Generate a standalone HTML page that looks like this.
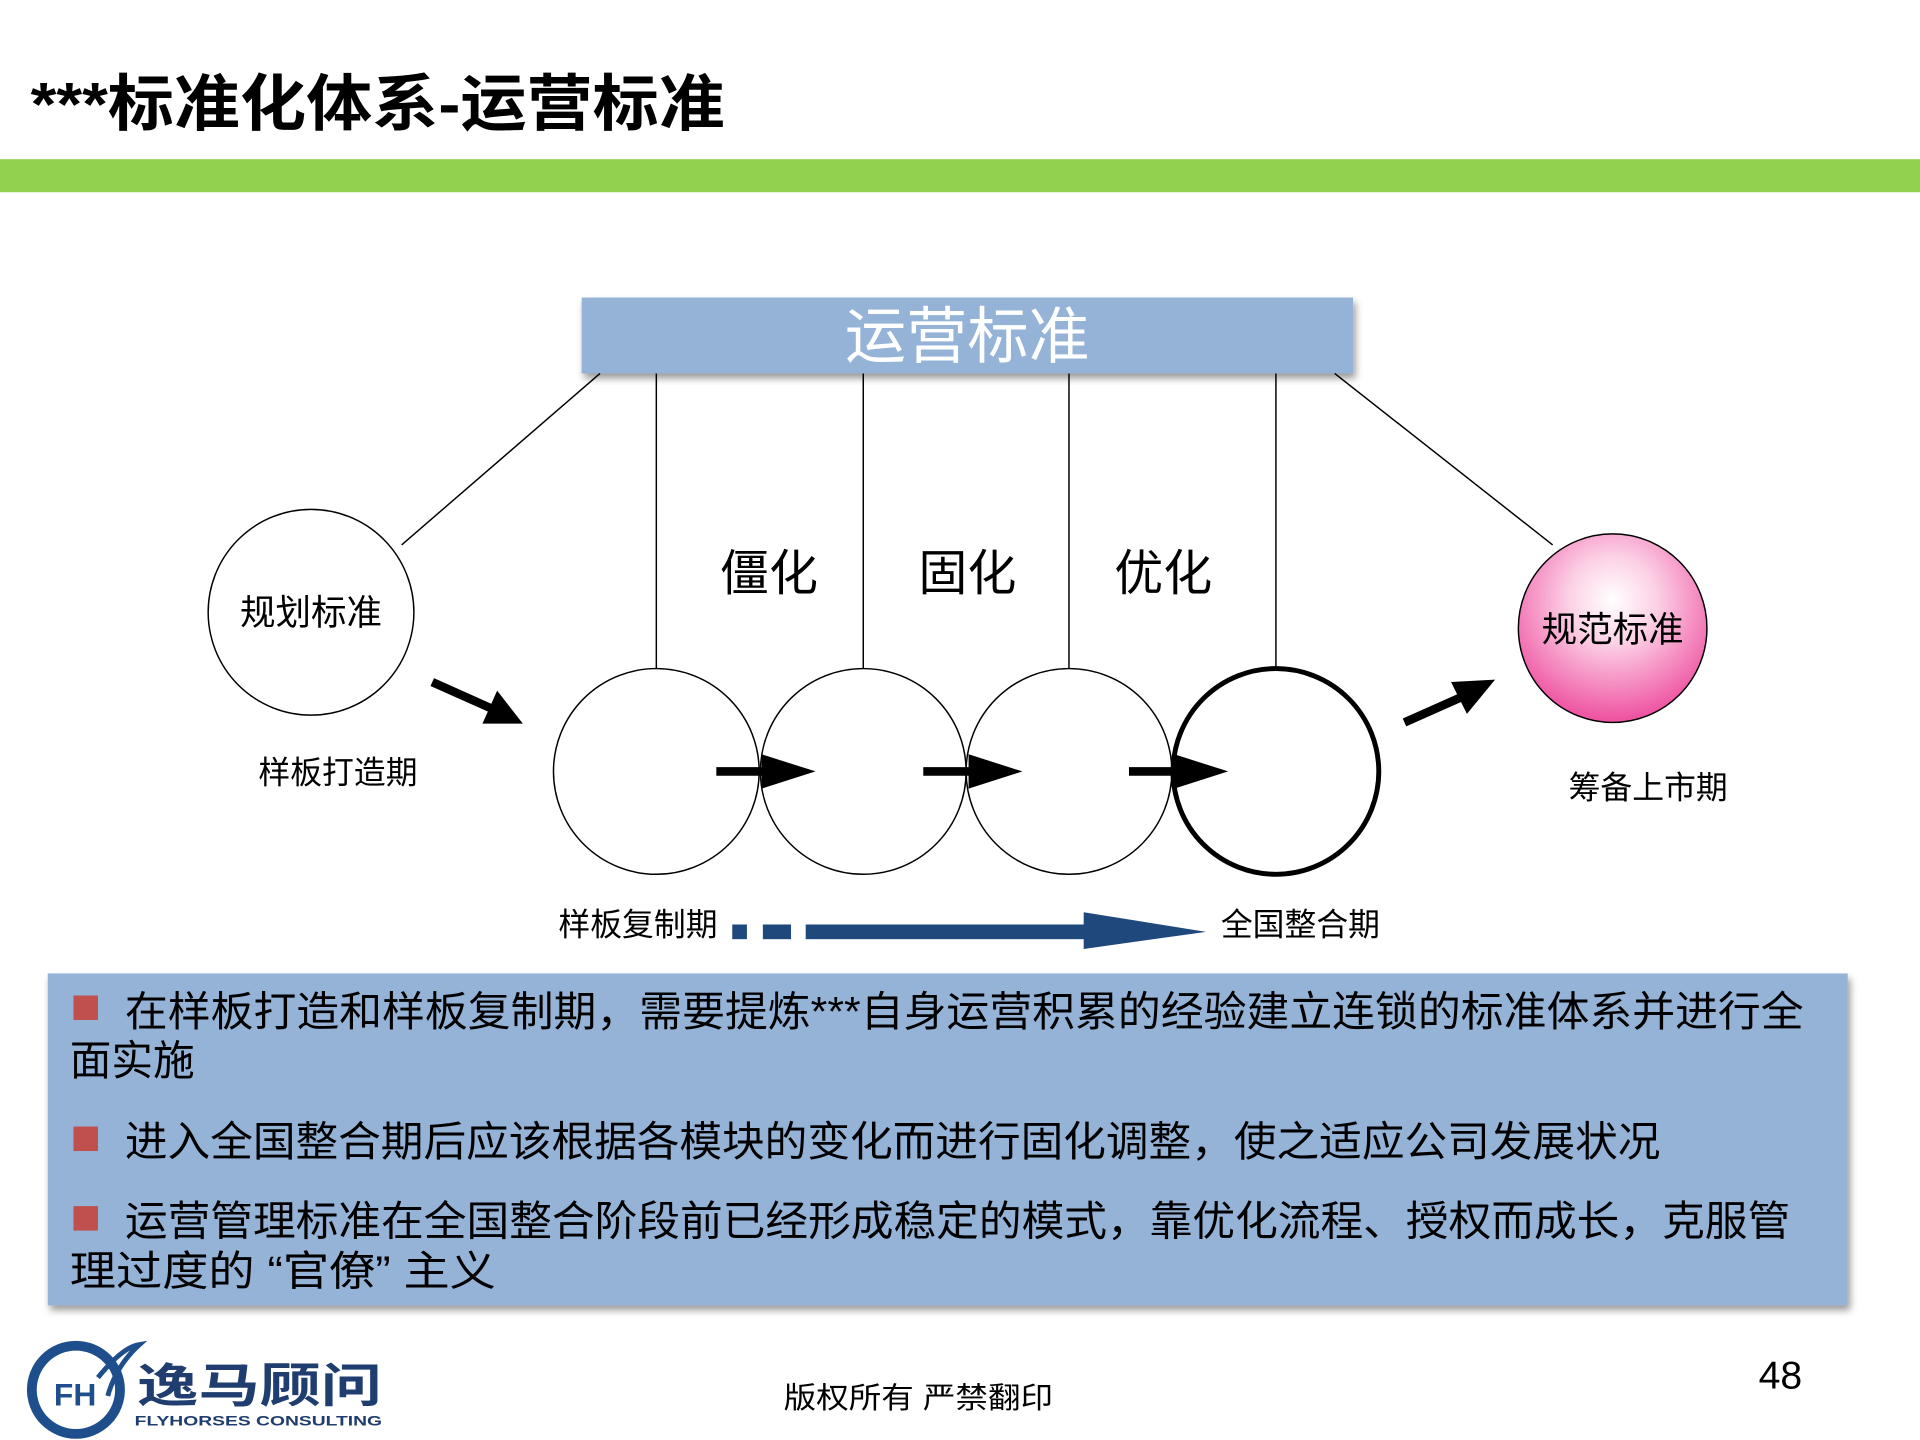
<!DOCTYPE html>
<html><head><meta charset="utf-8"><style>
html,body{margin:0;padding:0;background:#fff;width:1920px;height:1440px;overflow:hidden}
#w{width:1568px;height:1176px;transform:scale(1.2244898);transform-origin:0 0;position:relative;font-family:"Liberation Sans","Noto Sans CJK SC",sans-serif}
</style></head><body><div id="w">
<svg width="1568" height="1176" style="position:absolute;left:0;top:0" font-family="Liberation Sans, Noto Sans CJK SC, sans-serif">
<defs>
<radialGradient id="pk" cx="50%" cy="35%" r="65%"><stop offset="0" stop-color="#fff"/><stop offset="0.35" stop-color="#fcd2e6"/><stop offset="1" stop-color="#ee4fa0"/></radialGradient>
<filter id="sh" x="-5%" y="-5%" width="110%" height="120%"><feDropShadow dx="2" dy="4" stdDeviation="3" flood-opacity="0.4"/></filter>
</defs>
<text x="25" y="102" font-size="50" font-weight="bold" fill="#000" textLength="567" lengthAdjust="spacingAndGlyphs">***标准化体系-运营标准</text>
<rect x="0" y="130" width="1568" height="27" fill="#92d050"/>
<rect x="475" y="243" width="630" height="62" fill="#95b3d7" filter="url(#sh)"/>
<text x="790" y="292" font-size="50" fill="#fff" text-anchor="middle">运营标准</text>
<g stroke="#000" stroke-width="1.2" fill="none">
<line x1="490" y1="305" x2="328" y2="445"/>
<line x1="536" y1="305" x2="536" y2="546"/>
<line x1="705" y1="305" x2="705" y2="546"/>
<line x1="873" y1="305" x2="873" y2="546"/>
<line x1="1042" y1="305" x2="1042" y2="546"/>
<line x1="1090" y1="305" x2="1268" y2="445"/>
<circle cx="254" cy="500" r="84"/>
<circle cx="536" cy="630" r="84"/>
<circle cx="705" cy="630" r="84"/>
<circle cx="873" cy="630" r="84"/>
</g>
<circle cx="1042" cy="630" r="84" fill="none" stroke="#000" stroke-width="4"/>
<circle cx="1317" cy="513" r="77" fill="url(#pk)" stroke="#000" stroke-width="1.2"/>
<text x="254" y="510" font-size="29" text-anchor="middle">规划标准</text>
<text x="1317" y="524" font-size="29" text-anchor="middle">规范标准</text>
<text x="628" y="482" font-size="40" text-anchor="middle">僵化</text>
<text x="790" y="482" font-size="40" text-anchor="middle">固化</text>
<text x="950" y="482" font-size="40" text-anchor="middle">优化</text>
<g font-size="26">
<text x="276" y="640" text-anchor="middle">样板打造期</text>
<text x="1346" y="652" text-anchor="middle">筹备上市期</text>
<text x="521" y="764" text-anchor="middle">样板复制期</text>
<text x="1062" y="764" text-anchor="middle">全国整合期</text>
</g>
<g stroke="#000" stroke-width="7">
<line x1="585" y1="630" x2="625" y2="630"/>
<line x1="754" y1="630" x2="795" y2="630"/>
<line x1="922" y1="630" x2="963" y2="630"/>
<line x1="353" y1="557" x2="400" y2="578"/>
<line x1="1147" y1="590" x2="1192" y2="570"/>
</g>
<g fill="#000">
<path d="M622,616 L666,630 L622,644z"/>
<path d="M791,616 L835,630 L791,644z"/>
<path d="M959,616 L1003,630 L959,644z"/>
<path d="M394,591 L427,591 L406,564z"/>
<path d="M1185,557 L1221,555 L1198,583z"/>
</g>
<g fill="#1f497d">
<rect x="598" y="755" width="12" height="12"/>
<rect x="623" y="755" width="23" height="12"/>
<rect x="658" y="755" width="230" height="12"/>
<path d="M885,745 L985,761 L885,775z"/>
</g>
<rect x="39" y="795" width="1470" height="271" fill="#95b3d7" filter="url(#sh)"/>
<g fill="#c0504d"><rect x="60" y="813" width="20" height="20"/><rect x="60" y="920" width="20" height="20"/><rect x="60" y="985" width="20" height="20"/></g>
<g font-size="34" fill="#000" lengthAdjust="spacingAndGlyphs">
<text x="102" y="838" textLength="1371" lengthAdjust="spacingAndGlyphs">在样板打造和样板复制期，需要提炼***自身运营积累的经验建立连锁的标准体系并进行全</text>
<text x="57" y="878">面实施</text>
<text x="102" y="944" textLength="1254" lengthAdjust="spacingAndGlyphs">进入全国整合期后应该根据各模块的变化而进行固化调整，使之适应公司发展状况</text>
<text x="102" y="1009" textLength="1360" lengthAdjust="spacingAndGlyphs">运营管理标准在全国整合阶段前已经形成稳定的模式，靠优化流程、授权而成长，克服管</text>
<text x="57" y="1050" textLength="348" lengthAdjust="spacingAndGlyphs">理过度的 “官僚” 主义</text>
</g>
<circle cx="62" cy="1135" r="36" fill="none" stroke="#1f4e8c" stroke-width="8"/>
<text x="44" y="1148" font-size="26" font-weight="bold" fill="#1f4e8c">FH</text>
<path d="M80,1125 Q100,1100 114,1098 Q95,1115 88,1140" stroke="#1f4e8c" stroke-width="4" fill="none"/>
<text x="112" y="1145" font-size="38" font-weight="bold" fill="#1f3d6e" textLength="200" lengthAdjust="spacingAndGlyphs">逸马顾问</text>
<text x="110" y="1164" font-size="11" font-weight="bold" fill="#1f3d6e" textLength="202" lengthAdjust="spacingAndGlyphs">FLYHORSES CONSULTING</text>
<text x="640" y="1150" font-size="24" textLength="220" lengthAdjust="spacingAndGlyphs">版权所有  严禁翻印</text>
<text x="1454" y="1134" font-size="32" text-anchor="middle">48</text>
</svg>
</div></body></html>
